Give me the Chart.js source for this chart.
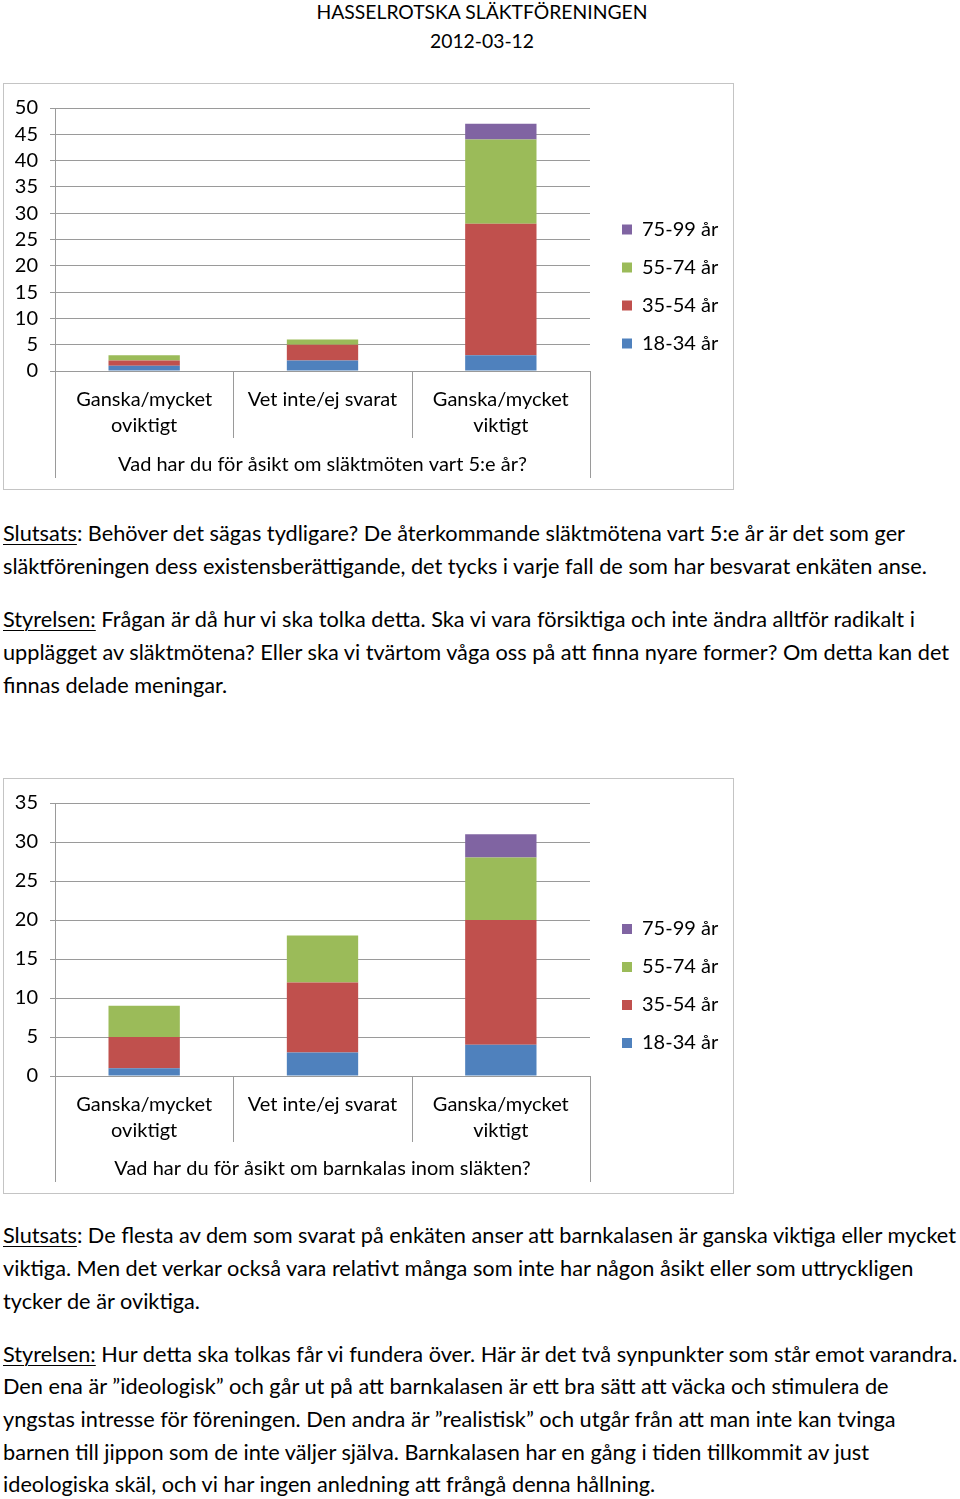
<!DOCTYPE html>
<html><head><meta charset="utf-8">
<script src="https://cdn.jsdelivr.net/npm/chart.js@4"></script>
<style>
html,body{margin:0;padding:0;background:#fff}
body{width:960px;height:1499px;position:relative;overflow:hidden;font-family:Lato,sans-serif;color:#000}
.t{position:absolute;left:3px;white-space:nowrap;line-height:33px;height:33px}
.c{position:absolute;left:0;width:964px;text-align:center;white-space:nowrap;line-height:30px;height:30px}
.box{position:absolute;border:1px solid #c4c4c4;box-sizing:border-box;background:#fff}
canvas{position:absolute}
u{text-decoration-thickness:1px;text-underline-offset:3px}
</style></head><body>
<div class="c" id="h1" style="top:-3px">HASSELROTSKA SLÄKTFÖRENINGEN</div>
<div class="c" id="h2" style="top:26px">2012-03-12</div>

<div class="box" style="left:3px;top:83px;width:731px;height:407px"></div>
<canvas id="c1" width="729" height="405" style="left:4px;top:84px;width:729px;height:405px"></canvas>

<div class="t" style="top:517px"><u>Slutsats</u>: Behöver det sägas tydligare? De återkommande släktmötena vart 5:e år är det som ger</div>
<div class="t" style="top:550px">släktföreningen dess existensberättigande, det tycks i varje fall de som har besvarat enkäten anse.</div>
<div class="t" style="top:603px"><u>Styrelsen:</u> Frågan är då hur vi ska tolka detta. Ska vi vara försiktiga och inte ändra alltför radikalt i</div>
<div class="t" style="top:636px">upplägget av släktmötena? Eller ska vi tvärtom våga oss på att finna nyare former? Om detta kan det</div>
<div class="t" style="top:669px">finnas delade meningar.</div>

<div class="box" style="left:3px;top:778px;width:731px;height:416px"></div>
<canvas id="c2" width="729" height="414" style="left:4px;top:779px;width:729px;height:414px"></canvas>

<div class="t" style="top:1219px"><u>Slutsats</u>: De flesta av dem som svarat på enkäten anser att barnkalasen är ganska viktiga eller mycket</div>
<div class="t" style="top:1252px">viktiga. Men det verkar också vara relativt många som inte har någon åsikt eller som uttryckligen</div>
<div class="t" style="top:1285px">tycker de är oviktiga.</div>
<div class="t" style="top:1338px"><u>Styrelsen:</u> Hur detta ska tolkas får vi fundera över. Här är det två synpunkter som står emot varandra.</div>
<div class="t" style="top:1370px">Den ena är ”ideologisk” och går ut på att barnkalasen är ett bra sätt att väcka och stimulera de</div>
<div class="t" style="top:1403px">yngstas intresse för föreningen. Den andra är ”realistisk” och utgår från att man inte kan tvinga</div>
<div class="t" style="top:1436px">barnen till jippon som de inte väljer själva. Barnkalasen har en gång i tiden tillkommit av just</div>
<div class="t" style="top:1468px">ideologiska skäl, och vi har ingen anledning att frångå denna hållning.</div>

<script>
// ---- data ----
const CATEGORIES = [['Ganska/mycket','oviktigt'], 'Vet inte/ej svarat', ['Ganska/mycket','viktigt']];
const SERIES = ['18-34 år','35-54 år','55-74 år','75-99 år'];
const COLORS = ['#4f81bd','#c0504d','#9bbb59','#8064a2'];

const MEET_18_34 = [1, 2, 3];
const MEET_35_54 = [1, 3, 25];
const MEET_55_74 = [1, 1, 16];
const MEET_75_99 = [0, 0, 3];
const MEET_TITLE = 'Vad har du för åsikt om släktmöten vart 5:e år?';
const MEET_Y = {min: 0, max: 50, step: 5};

const KIDS_18_34 = [1, 3, 4];
const KIDS_35_54 = [4, 9, 16];
const KIDS_55_74 = [4, 6, 8];
const KIDS_75_99 = [0, 0, 3];
const KIDS_TITLE = 'Vad har du för åsikt om barnkalas inom släkten?';
const KIDS_Y = {min: 0, max: 35, step: 5};

// ---- fonts ----
const FAMILY = 'Lato';
function fitFont(text, target){
  const c = document.createElement('canvas').getContext('2d');
  c.font = '100px ' + FAMILY;
  return 100 * target / c.measureText(text).width;
}
const bodySize = fitFont('Slutsats: Behöver det sägas tydligare? De återkommande släktmötena vart 5:e år är det som ger', 904);
document.querySelectorAll('.t').forEach(d => d.style.fontSize = bodySize + 'px');
const headSize = fitFont('HASSELROTSKA SLÄKTFÖRENINGEN', 332);
document.querySelectorAll('.c').forEach(d => d.style.fontSize = headSize + 'px');
const FS = Math.round(fitFont('Vet inte/ej svarat', 148) * 2) / 2;

Chart.defaults.font.family = FAMILY;
Chart.defaults.color = '#000';

const GRID = '#9a9a9a';

const framePlugin = {
  id: 'frame',
  beforeLayout(chart){
    const lg = chart.legend;
    if (lg && !lg._patched){
      const f = lg.fit;
      lg.fit = function(){ f.call(this); this.width = 143; };
      lg._patched = true;
    }
  },
  afterLayout(chart){
    const lg = chart.legend;
    const pad = chart.options.plugins.legend.labels.padding;
    lg.left = 618 - pad; lg.right = lg.left + lg.width;
    lg.top = 0; lg.bottom = chart.height; lg.height = chart.height;
  },
  afterDraw(chart, args, opts){
    const x = chart.scales.x, a = chart.chartArea, ctx = chart.ctx;
    const n = chart.data.labels.length;
    ctx.save();
    ctx.strokeStyle = GRID; ctx.lineWidth = 1;
    ctx.beginPath();
    for (let i = 0; i <= n; i++){
      let px, len;
      if (i === 0){ px = a.left; len = opts.outer; }
      else if (i === n){ px = a.right; len = opts.outer; }
      else { px = (x.getPixelForValue(i-1) + x.getPixelForValue(i)) / 2; len = opts.inner; }
      px = Math.round(px) + 0.5;
      ctx.moveTo(px, a.bottom); ctx.lineTo(px, a.bottom + len);
    }
    ctx.stroke();
    ctx.restore();
  }
};

function makeChart(id, values, yr, title, topPad, xHeight, outer, inner){
  const datasets = SERIES.map((s, i) => ({
    label: s, data: values[i], backgroundColor: COLORS[i], borderWidth: 0,
    barPercentage: 0.4, categoryPercentage: 1.0
  }));
  return new Chart(document.getElementById(id), {
    type: 'bar',
    data: {labels: CATEGORIES, datasets},
    plugins: [framePlugin],
    options: {
      responsive: false, animation: false, devicePixelRatio: 1,
      layout: {padding: {top: topPad, left: 0, right: 0, bottom: 0}},
      plugins: {
        legend: {
          position: 'right', reverse: true,
          labels: {boxWidth: 10, boxHeight: 10, padding: 38 - FS, font: {size: FS}, color: '#000'}
        },
        tooltip: {enabled: false},
        frame: {outer, inner}
      },
      scales: {
        x: {
          stacked: true,
          grid: {display: false},
          border: {display: false},
          ticks: {font: {size: FS, lineHeight: '26px'}, padding: 8, maxRotation: 0, autoSkip: false, color: '#000'},
          title: {display: true, text: title, font: {size: FS, lineHeight: '22px'}, padding: {top: 0, bottom: 13}, color: '#000'},
          afterFit(s){ s.height = xHeight; }
        },
        y: {
          stacked: true, min: yr.min, max: yr.max,
          grid: {color: GRID, tickLength: 5, drawTicks: true},
          border: {display: true, color: GRID},
          ticks: {stepSize: yr.step, autoSkip: false, font: {size: FS}, padding: 12, color: '#000'},
          afterFit(s){ s.width = 51; }
        }
      }
    }
  });
}

makeChart('c1', [MEET_18_34, MEET_35_54, MEET_55_74, MEET_75_99], MEET_Y, MEET_TITLE, 20, 118, 107, 67);
makeChart('c2', [KIDS_18_34, KIDS_35_54, KIDS_55_74, KIDS_75_99], KIDS_Y, KIDS_TITLE, 22, 117, 106, 66);
</script>
</body></html>
